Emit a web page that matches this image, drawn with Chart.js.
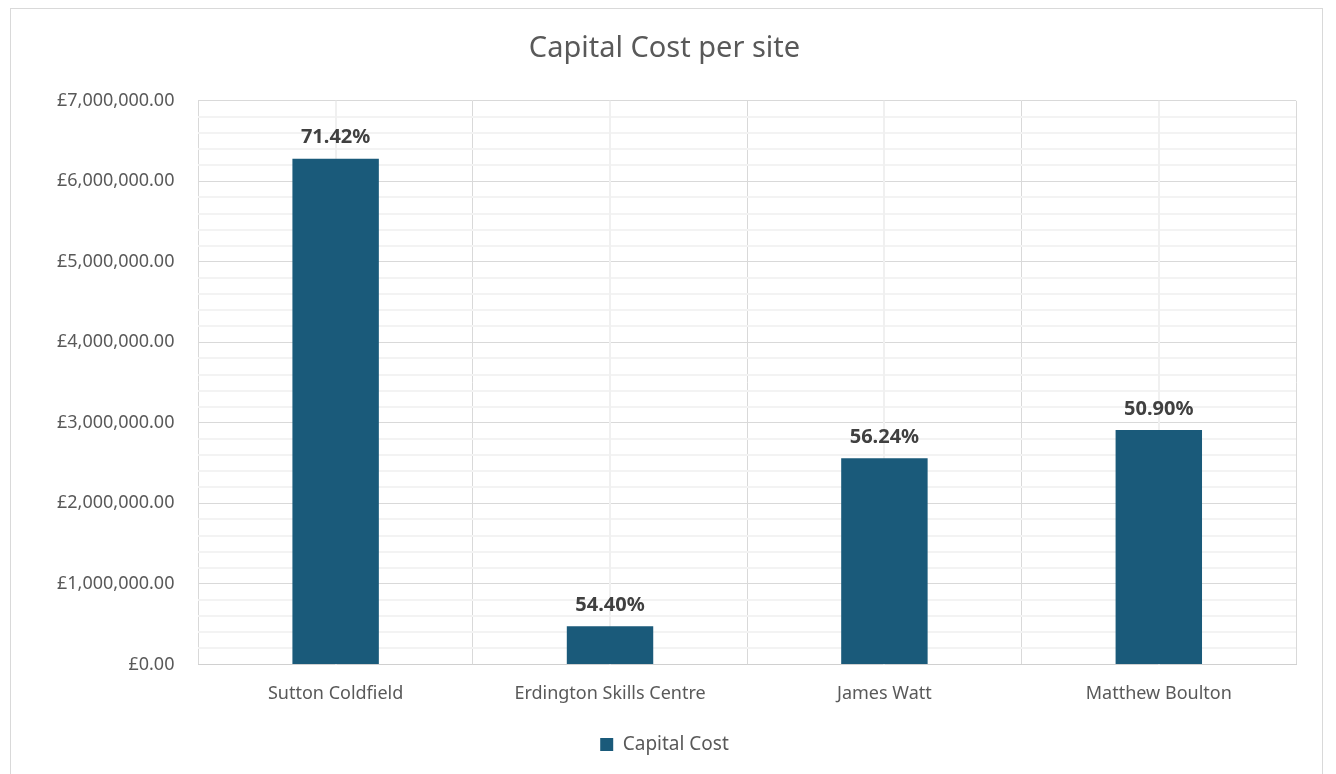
<!DOCTYPE html>
<html>
<head>
<meta charset="utf-8">
<title>Capital Cost per site</title>
<script src="https://cdn.jsdelivr.net/npm/chart.js@4"></script>
<style>
    body { margin: 0; background: #fff; }
    #frame {
        position: absolute;
        left: 10px; top: 8px;
        width: 1311px; height: 780px;
        border: 1px solid #d9d9d9;
    }
    #chartBox { width: 1311px; height: 765px; }
</style>
</head>
<body>
<div id="frame">
    <div id="chartBox"><canvas id="costChart"></canvas></div>
</div>
<script>
// Sites and their capital cost (GBP)
const sites = ["Sutton Coldfield", "Erdington Skills Centre", "James Watt", "Matthew Boulton"];
const capitalCost = [6280000, 475000, 2560000, 2910000];
// Percentage shown above each bar
const costShare = ["71.42%", "54.40%", "56.24%", "50.90%"];

const barColor = "#1a5a7a";
const textColor = "#595959";
const fontFamily = "'Noto Sans', Roboto, sans-serif";

function gbp(v) {
    return "£" + v.toLocaleString("en-GB", { minimumFractionDigits: 2, maximumFractionDigits: 2 });
}

// faint lines through the middle of each category
const centerLines = {
    id: "centerLines",
    beforeDatasetsDraw(chart) {
        const ctx = chart.ctx;
        const x = chart.scales.x;
        const area = chart.chartArea;
        ctx.save();
        ctx.strokeStyle = "#f0f0f0";
        ctx.lineWidth = 2;
        sites.forEach((_, i) => {
            let px = Math.round(x.getPixelForValue(i));
            ctx.beginPath();
            ctx.moveTo(px, area.top);
            ctx.lineTo(px, area.bottom);
            ctx.stroke();
        });
        ctx.restore();
    }
};

// percentage labels over the bars
const barLabels = {
    id: "barLabels",
    afterDatasetsDraw(chart) {
        const ctx = chart.ctx;
        const meta = chart.getDatasetMeta(0);
        ctx.save();
        ctx.font = "bold 20px " + fontFamily;
        ctx.fillStyle = "#404040";
        ctx.textAlign = "center";
        ctx.textBaseline = "middle";
        meta.data.forEach((bar, i) => {
            ctx.fillText(costShare[i], bar.x, bar.y - 21);
        });
        ctx.restore();
    }
};

const ctx = document.getElementById("costChart").getContext("2d");
new Chart(ctx, {
    type: "bar",
    data: {
        labels: sites,
        datasets: [{
            label: "Capital Cost",
            data: capitalCost,
            backgroundColor: barColor,
            barPercentage: 0.315,
            categoryPercentage: 1
        }]
    },
    options: {
        responsive: true,
        maintainAspectRatio: false,
        animation: false,
        layout: { padding: { top: 0, right: 26, bottom: 10, left: 22 } },
        plugins: {
            title: {
                display: true,
                text: "Capital Cost per site",
                color: textColor,
                font: { family: fontFamily, size: 29, weight: "normal" },
                padding: { top: 22, bottom: 35 }
            },
            legend: {
                position: "bottom",
                labels: {
                    color: textColor,
                    font: { family: fontFamily, size: 19 },
                    boxWidth: 13,
                    boxHeight: 13,
                    padding: 10
                }
            },
            tooltip: { enabled: false }
        },
        scales: {
            x: {
                grid: {
                    offset: true,
                    color: "#d9d9d9",
                    drawTicks: false
                },
                border: { color: "#d0d0d0" },
                ticks: {
                    color: textColor,
                    font: { family: fontFamily, size: 18 },
                    padding: 19
                },
                afterFit(scale) { scale.height += 1; }
            },
            y: {
                min: 0,
                max: 7000000,
                grid: {
                    drawTicks: false,
                    lineWidth: ctx => (ctx.tick && ctx.tick.value % 1000000 === 0) ? 1 : 2,
                    color: ctx => (ctx.tick && ctx.tick.value % 1000000 === 0) ? "#d9d9d9" : "#f3f3f3"
                },
                border: { display: false },
                ticks: {
                    stepSize: 200000,
                    autoSkip: false,
                    color: textColor,
                    font: { family: fontFamily, size: 18 },
                    padding: 24,
                    callback: v => (v % 1000000 === 0) ? gbp(v) : ""
                }
            }
        }
    },
    plugins: [centerLines, barLabels]
});
</script>
</body>
</html>
